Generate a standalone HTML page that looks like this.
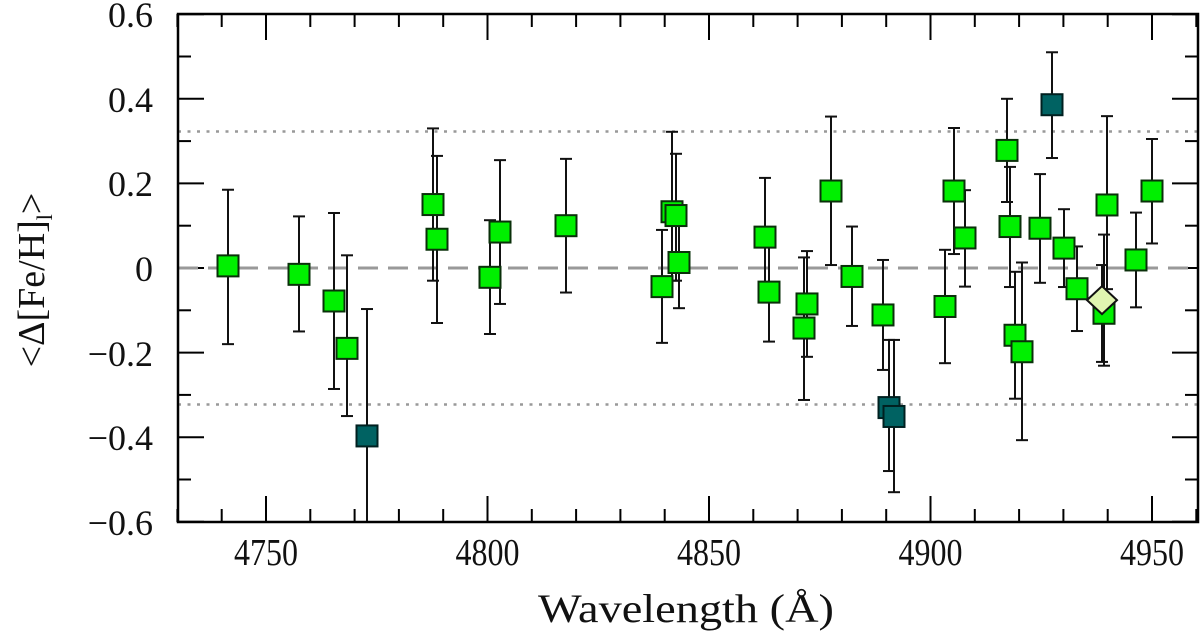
<!DOCTYPE html>
<html><head><meta charset="utf-8"><style>
html,body{margin:0;padding:0;background:#fff;}
svg{display:block;}
</style></head><body>
<svg width="1200" height="640" viewBox="0 0 1200 640" xmlns="http://www.w3.org/2000/svg">
<g id="ticks" stroke="#000" stroke-width="2"></g>
<line x1="178" y1="268" x2="1198" y2="268" stroke="#999" stroke-width="3" stroke-dasharray="20,10"/>
<line x1="178" y1="131.5" x2="1198" y2="131.5" stroke="#999" stroke-width="2.5" stroke-dasharray="3,6.5"/>
<line x1="178" y1="404.5" x2="1198" y2="404.5" stroke="#999" stroke-width="2.5" stroke-dasharray="3,6.5"/>
<g id="bars" stroke="#111" stroke-width="2" fill="none"></g>
<g id="pts" stroke="#0a2a0a" stroke-width="2"></g>
<rect x="178" y="14" width="1020" height="508" fill="none" stroke="#000" stroke-width="2.5"/>
<g font-family="Liberation Serif, serif" font-size="36" fill="#111" text-anchor="end">
<text x="153" y="27">0.6</text>
<text x="153" y="112">0.4</text>
<text x="153" y="196">0.2</text>
<text x="153" y="281">0</text>
<text x="153" y="366">−0.2</text>
<text x="153" y="450">−0.4</text>
<text x="153" y="535">−0.6</text>
</g>
<g font-family="Liberation Serif, serif" font-size="38" fill="#111" text-anchor="middle">
<text x="266" y="565" textLength="64" lengthAdjust="spacingAndGlyphs">4750</text>
<text x="487.5" y="565" textLength="64" lengthAdjust="spacingAndGlyphs">4800</text>
<text x="709" y="565" textLength="64" lengthAdjust="spacingAndGlyphs">4850</text>
<text x="930.5" y="565" textLength="64" lengthAdjust="spacingAndGlyphs">4900</text>
<text x="1152" y="565" textLength="64" lengthAdjust="spacingAndGlyphs">4950</text>
</g>
<text x="686" y="622" font-family="Liberation Serif, serif" font-size="40" fill="#111" text-anchor="middle" textLength="296" lengthAdjust="spacingAndGlyphs">Wavelength (Å)</text>
<text transform="translate(44,280) rotate(-90)" font-family="Liberation Serif, serif" font-size="38" fill="#111" text-anchor="middle">&lt;Δ[Fe/H]<tspan font-size="22" dy="8">l</tspan><tspan dy="-8">&gt;</tspan></text>
<script>
(function(){
var NS="http://www.w3.org/2000/svg";
function el(p,t,a){var e=document.createElementNS(NS,t);for(var k in a)e.setAttribute(k,a[k]);p.appendChild(e);return e;}
var tk=document.getElementById('ticks');
function X(l){return 266+(l-4750)*4.43;}
function Y(v){return 268-v*423;}
for(var l=4730;l<=4960;l+=10){var x=X(l);var L=(l%50==0)?26:13;
 el(tk,'line',{x1:x,y1:522,x2:x,y2:522-L});el(tk,'line',{x1:x,y1:14,x2:x,y2:14+L});}
for(var i=-6;i<=6;i++){var y=Y(i/10);var L=(i%2==0)?26:13;
 el(tk,'line',{x1:178,y1:y,x2:178+L,y2:y});el(tk,'line',{x1:1198,y1:y,x2:1198-L,y2:y});}
var P=[
[228,0.005,0.185,-0.18,'g'],[299,-0.015,0.122,-0.15,'g'],[334,-0.078,0.13,-0.286,'g'],[347,-0.19,0.03,-0.35,'g'],
[367,-0.397,-0.097,-0.62,'d'],[433,0.15,0.33,-0.03,'g'],[437,0.068,0.265,-0.13,'g'],[490,-0.022,0.113,-0.156,'g'],
[500,0.085,0.255,-0.085,'g'],[566,0.1,0.258,-0.058,'g'],[662,-0.044,0.09,-0.177,'g'],[672,0.133,0.322,-0.03,'g'],
[676,0.124,0.27,-0.03,'g'],[679,0.013,0.12,-0.095,'g'],[765,0.073,0.213,-0.07,'g'],[769,-0.057,0.08,-0.174,'g'],
[804,-0.142,0.025,-0.312,'g'],[807,-0.085,0.04,-0.21,'g'],[831,0.182,0.358,0.007,'g'],[852,-0.02,0.098,-0.137,'g'],
[883,-0.111,0.019,-0.241,'g'],[889,-0.33,-0.17,-0.48,'d'],[894,-0.351,-0.17,-0.53,'d'],
[945,-0.091,0.043,-0.225,'g'],[954,0.182,0.331,0.033,'g'],[965,0.071,0.184,-0.044,'g'],[1007,0.278,0.40,0.156,'g'],
[1010,0.098,0.239,-0.045,'g'],[1015,-0.159,-0.009,-0.309,'g'],[1022,-0.198,0.013,-0.407,'g'],[1052,0.386,0.51,0.26,'d'],
[1040,0.094,0.222,-0.035,'g'],[1064,0.047,0.139,-0.045,'g'],[1077,-0.049,0.051,-0.149,'g'],[1104,-0.107,0.079,-0.231,'g'],
[1107,0.149,0.359,-0.05,'g'],[1136,0.019,0.131,-0.093,'g'],[1152,0.182,0.305,0.058,'g'],[1102,-0.076,0.007,-0.222,'m']
];
var B=document.getElementById('bars'),G=document.getElementById('pts');
P.forEach(function(p){var x=p[0],t=Y(p[2]),b=Math.min(Y(p[3]),522);
 el(B,'line',{x1:x,y1:t,x2:x,y2:b});el(B,'line',{x1:x-6,y1:t,x2:x+6,y2:t});
 if(b<522)el(B,'line',{x1:x-6,y1:b,x2:x+6,y2:b});});
P.forEach(function(p){var x=p[0],y=Y(p[1]);
 if(p[4]=='m'){el(G,'polygon',{points:(x)+','+(y-14)+' '+(x+15)+','+y+' '+x+','+(y+14)+' '+(x-15)+','+y,fill:'#e0f5b0',stroke:'#111'});}
 else el(G,'rect',{x:x-10.5,y:y-10.5,width:21,height:21,fill:p[4]=='d'?'#006262':'#00f000',stroke:p[4]=='d'?'#002020':'#0a300a'});});
})();
</script>
</svg>
</body></html>
